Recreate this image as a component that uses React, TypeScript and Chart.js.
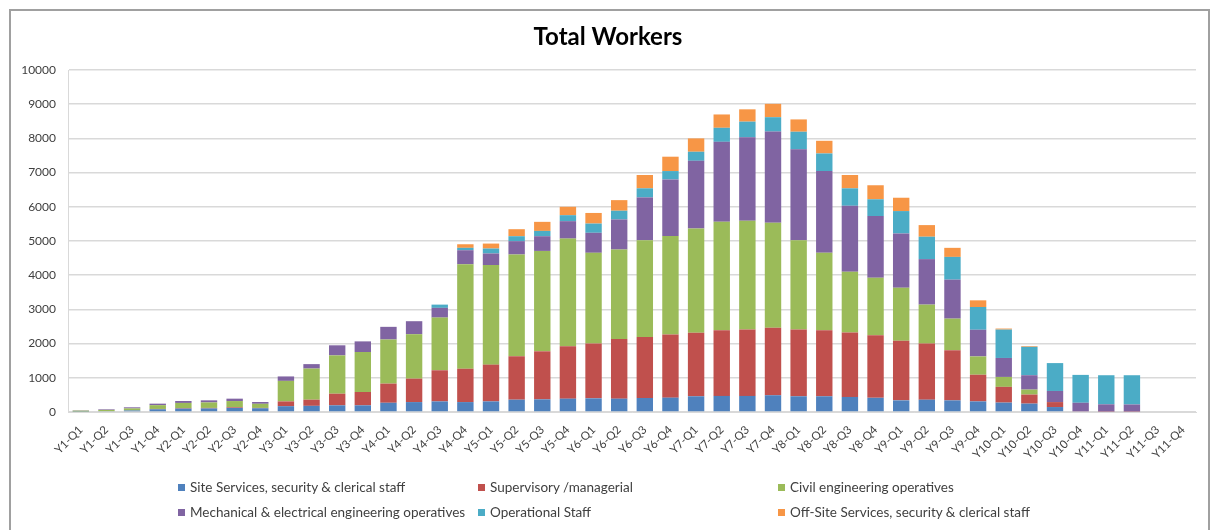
import React, { useEffect, useRef } from "react";
import { Chart, registerables } from "chart.js";

Chart.register(...registerables);

const categories = [
  "Y1-Q1", "Y1-Q2", "Y1-Q3", "Y1-Q4",
  "Y2-Q1", "Y2-Q2", "Y2-Q3", "Y2-Q4",
  "Y3-Q1", "Y3-Q2", "Y3-Q3", "Y3-Q4",
  "Y4-Q1", "Y4-Q2", "Y4-Q3", "Y4-Q4",
  "Y5-Q1", "Y5-Q2", "Y5-Q3", "Y5-Q4",
  "Y6-Q1", "Y6-Q2", "Y6-Q3", "Y6-Q4",
  "Y7-Q1", "Y7-Q2", "Y7-Q3", "Y7-Q4",
  "Y8-Q1", "Y8-Q2", "Y8-Q3", "Y8-Q4",
  "Y9-Q1", "Y9-Q2", "Y9-Q3", "Y9-Q4",
  "Y10-Q1", "Y10-Q2", "Y10-Q3", "Y10-Q4",
  "Y11-Q1", "Y11-Q2", "Y11-Q3", "Y11-Q4",
];

const siteServices = [
  15, 25, 45, 80, 100, 105, 120, 110,
  170, 180, 195, 195, 270, 290, 310, 290,
  310, 360, 370, 390, 400, 390, 410, 420,
  460, 470, 470, 490, 460, 460, 440, 415,
  340, 360, 340, 310, 275, 245, 145, 0,
  0, 0, 0, 0,
];

const supervisory = [
  0, 0, 0, 10, 15, 15, 20, 10,
  140, 180, 340, 390, 560, 685, 910, 975,
  1075, 1270, 1405, 1530, 1600, 1745, 1785, 1845,
  1860, 1920, 1940, 1970, 1950, 1930, 1885, 1830,
  1740, 1640, 1465, 780, 460, 265, 145, 20,
  15, 15, 0, 0,
];

const civil = [
  25, 35, 60, 110, 150, 160, 180, 120,
  600, 910, 1120, 1170, 1290, 1300, 1540, 3055,
  2910, 2975, 2935, 3150, 2655, 2615, 2830, 2880,
  3045, 3170, 3180, 3075, 2615, 2265, 1775, 1680,
  1550, 1140, 925, 535, 290, 145, 0, 0,
  0, 0, 0, 0,
];

const mechanical = [
  10, 18, 32, 44, 57, 61, 70, 53,
  130, 130, 295, 310, 370, 380, 285, 410,
  340, 390, 430, 510, 585, 880, 1250, 1655,
  1980, 2340, 2440, 2665, 2655, 2390, 1930, 1805,
  1590, 1330, 1140, 780, 555, 420, 325, 250,
  210, 205, 0, 0,
];

const operational = [
  0, 0, 0, 0, 0, 0, 0, 0,
  0, 0, 0, 0, 0, 0, 95, 70,
  145, 145, 155, 175, 270, 255, 265, 245,
  265, 410, 460, 420, 515, 515, 510, 490,
  655, 655, 665, 665, 830, 830, 815, 815,
  850, 855, 0, 0,
];

const offSite = [
  0, 0, 0, 0, 0, 0, 0, 0,
  0, 0, 0, 0, 0, 0, 0, 105,
  145, 205, 265, 245, 310, 310, 390, 420,
  390, 390, 360, 390, 360, 370, 390, 410,
  390, 340, 265, 195, 30, 20, 0, 0,
  0, 0, 0, 0,
];

const seriesNames = [
  "Site Services, security & clerical staff",
  "Supervisory /managerial",
  "Civil engineering operatives",
  "Mechanical & electrical engineering operatives",
  "Operational Staff",
  "Off-Site Services, security & clerical staff",
];

const seriesColors = ["#4F81BD", "#C0504D", "#9BBB59", "#8064A2", "#4BACC6", "#F79646"];

const seriesValues = [siteServices, supervisory, civil, mechanical, operational, offSite];

const yTicks = { min: 0, max: 10000, step: 1000 };

const FONT = "Lato, 'Open Sans', 'DejaVu Sans', sans-serif";

// legend layout: [seriesIndex, left, top]
const legendPlacement: [number, number, number][] = [
  [0, 178, 487],
  [1, 478, 487],
  [2, 778, 487],
  [3, 178, 512],
  [4, 478, 512],
  [5, 778, 512],
];

export default function App() {
  const canvasRef = useRef<HTMLCanvasElement | null>(null);

  useEffect(() => {
    const canvas = canvasRef.current;
    if (!canvas) return;
    const chart = new Chart(canvas, {
      type: "bar",
      data: {
        labels: categories,
        datasets: seriesNames.map((name, i) => ({
          label: name,
          data: seriesValues[i],
          backgroundColor: seriesColors[i],
          borderWidth: 0,
          barPercentage: 0.64,
          categoryPercentage: 1,
          stack: "s",
        })),
      },
      options: {
        responsive: false,
        animation: false,
        layout: { padding: { left: 10, right: 20, top: 70, bottom: 0 } },
        plugins: {
          legend: { display: false },
          title: { display: false },
          tooltip: { enabled: false },
        },
        scales: {
          x: {
            stacked: true,
            grid: { display: false },
            border: { display: true, color: "#d9d9d9", width: 1 },
            ticks: {
              autoSkip: false,
              maxRotation: 45,
              minRotation: 45,
              color: "#404040",
              font: { family: FONT, size: 11.5 },
              padding: 3,
            },
            afterFit: (scale: any) => {
              scale.height = 118;
            },
          },
          y: {
            stacked: true,
            min: yTicks.min,
            max: yTicks.max,
            ticks: {
              stepSize: yTicks.step,
              color: "#404040",
              font: { family: FONT, size: 12 },
              padding: 12,
              callback: (v: any) => String(v),
            },
            grid: { color: "#d9d9d9", lineWidth: 1.5, drawTicks: false },
            border: { display: true, color: "#d9d9d9", width: 1 },
            afterFit: (scale: any) => {
              scale.width = 58;
            },
          },
        },
      },
    });
    return () => chart.destroy();
  }, []);

  return (
    <div
      style={{
        position: "fixed",
        left: 0,
        top: 0,
        width: 1216,
        height: 530,
        background: "#ffffff",
        overflow: "hidden",
        fontFamily: FONT,
      }}
    >
      <div
        style={{
          position: "absolute",
          left: 9,
          top: 9,
          width: 1201,
          height: 600,
          border: "2px solid #a0a0a0",
          boxSizing: "border-box",
        }}
      />
      <canvas
        ref={canvasRef}
        width={1216}
        height={530}
        style={{ position: "absolute", left: 0, top: 0, width: 1216, height: 530 }}
      />
      <div
        style={{
          position: "absolute",
          left: 0,
          top: 24,
          width: 1216,
          textAlign: "center",
          fontSize: 24,
          lineHeight: "24px",
          fontWeight: 700,
          color: "#000000",
        }}
      >
        Total Workers
      </div>
      {legendPlacement.map(([idx, left, top]) => (
        <div
          key={idx}
          style={{
            position: "absolute",
            left,
            top: top - 9,
            height: 18,
            display: "flex",
            alignItems: "center",
            fontSize: 13.5,
            color: "#404040",
            whiteSpace: "nowrap",
          }}
        >
          <span
            style={{
              display: "inline-block",
              width: 7,
              height: 7,
              background: seriesColors[idx],
              marginRight: 5,
            }}
          />
          {seriesNames[idx]}
        </div>
      ))}
    </div>
  );
}
